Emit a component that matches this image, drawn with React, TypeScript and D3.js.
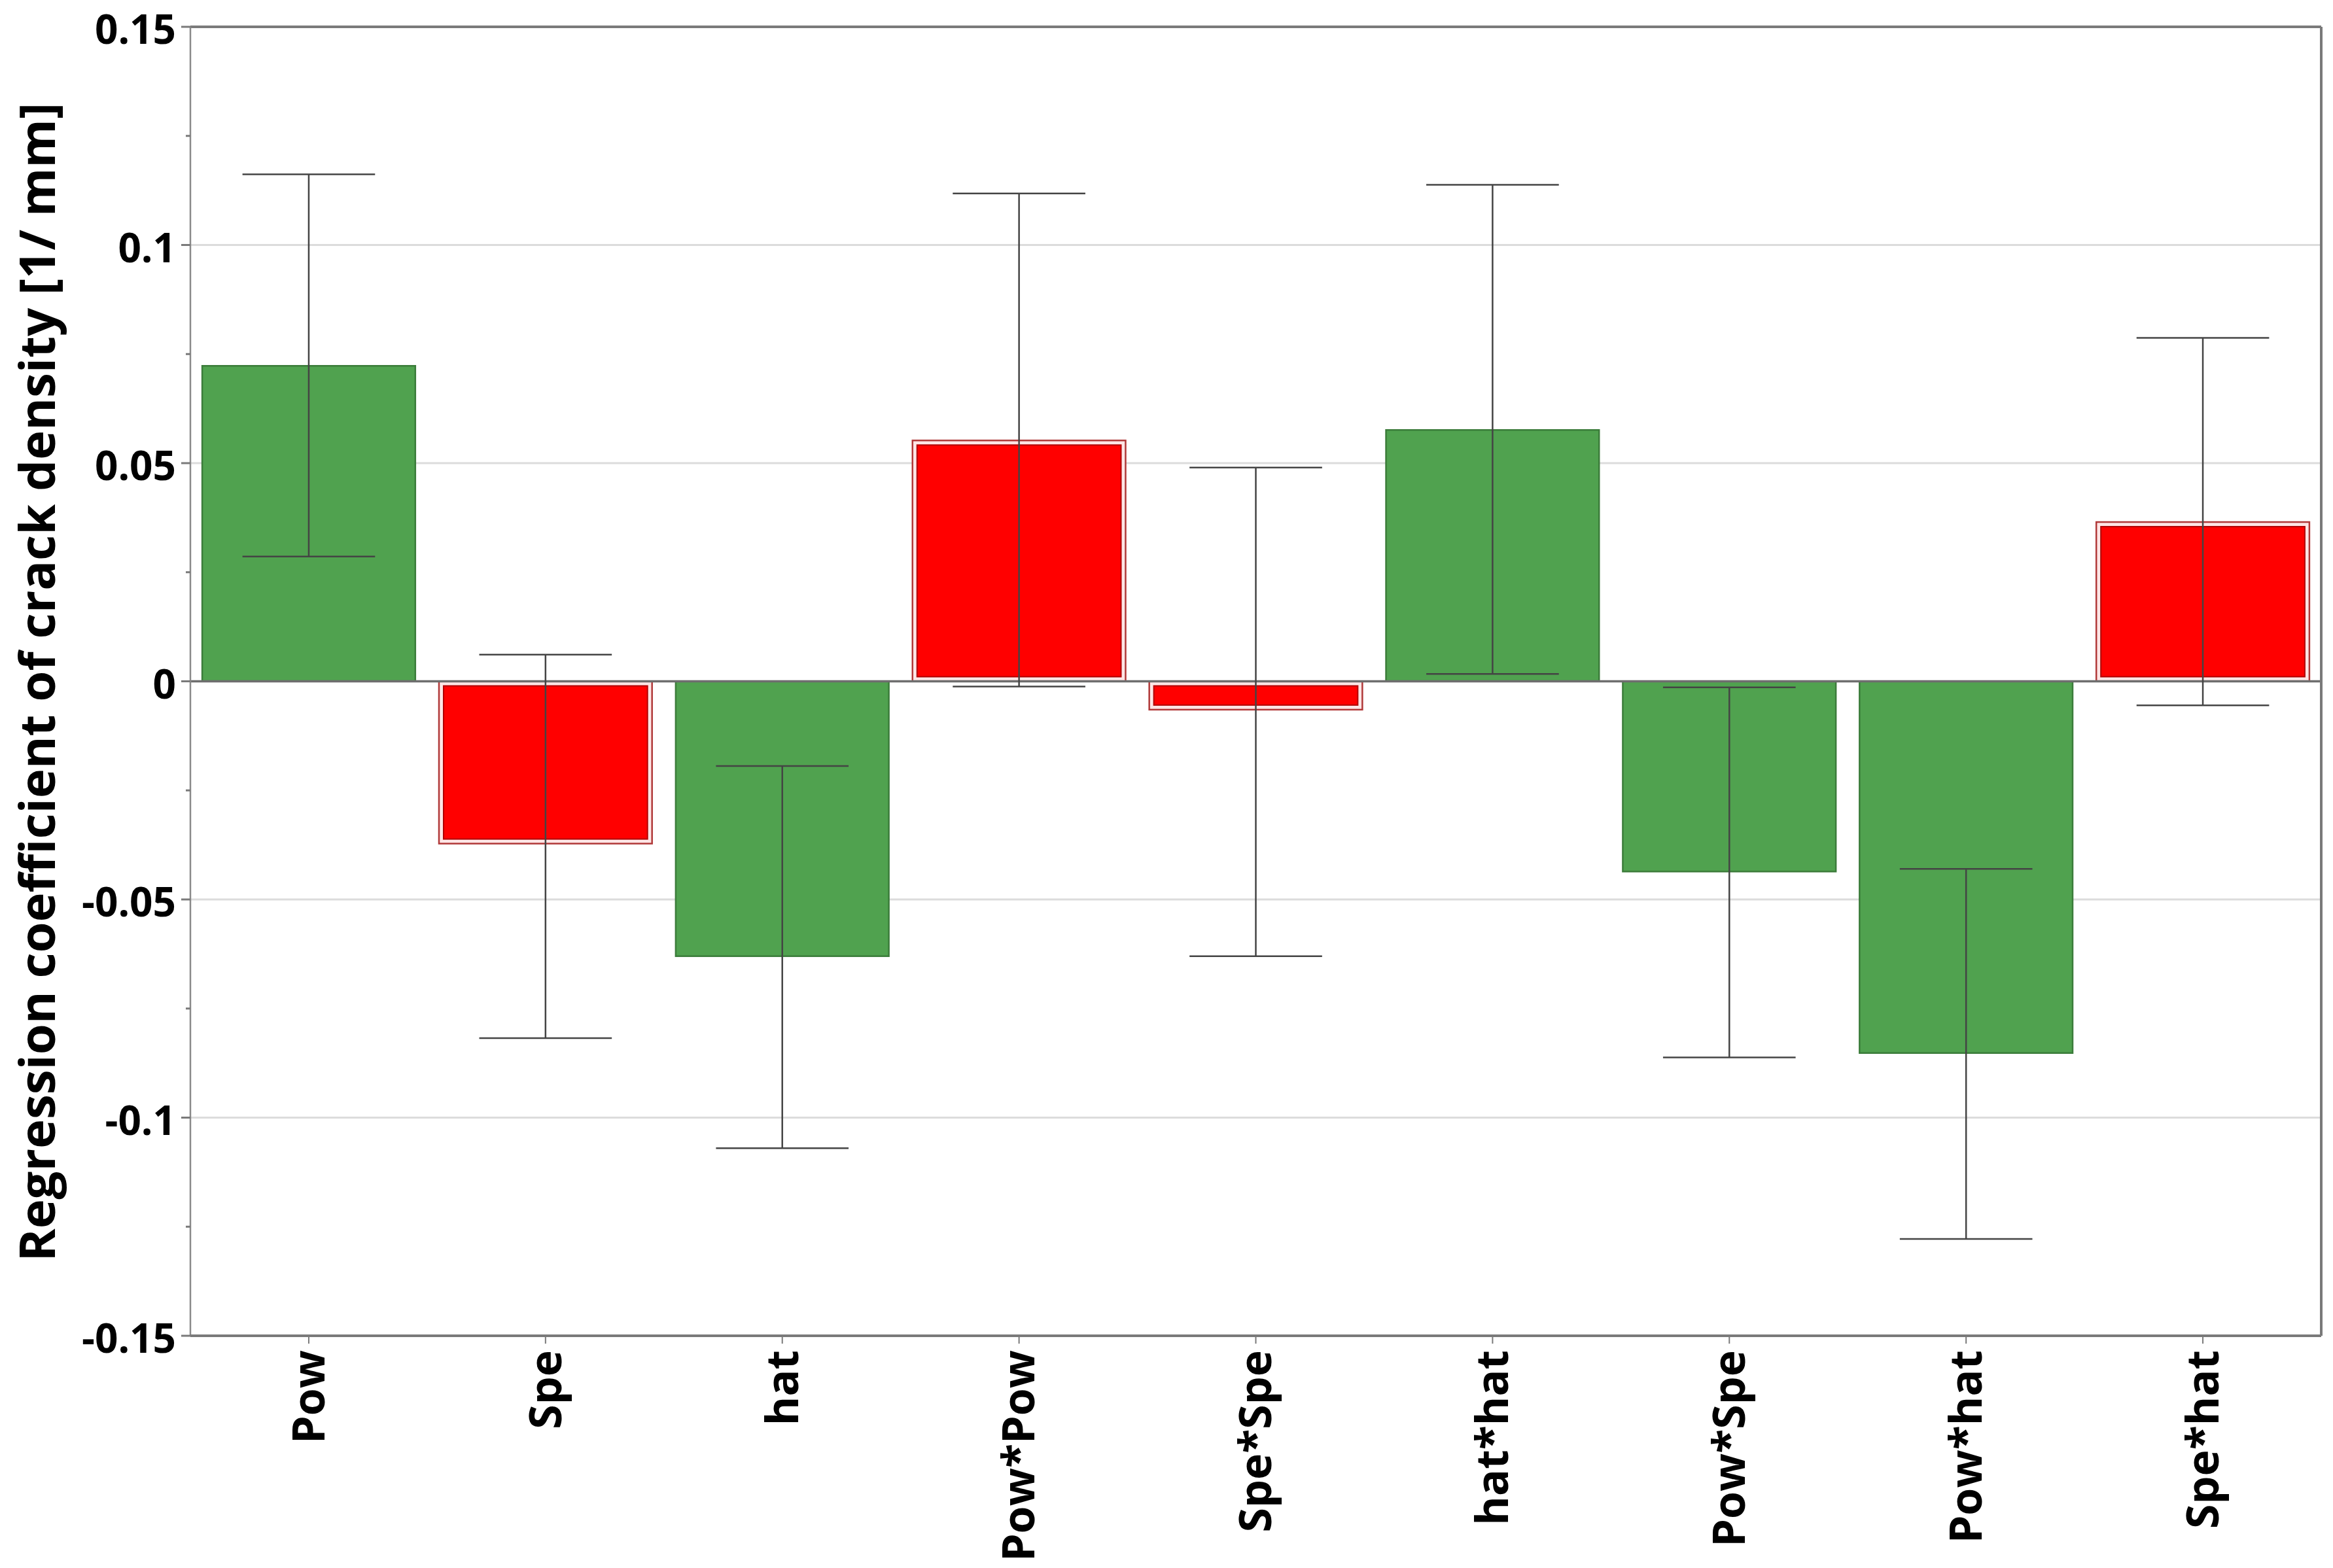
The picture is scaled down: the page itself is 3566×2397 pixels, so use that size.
import React from "react";
import * as d3 from "d3";

const categories = ["Pow", "Spe", "hat", "Pow*Pow", "Spe*Spe", "hat*hat", "Pow*Spe", "Pow*hat", "Spe*hat"];
const coefficients = [0.0723, -0.0372, -0.063, 0.0552, -0.0065, 0.0576, -0.0436, -0.0852, 0.0365];
const errorLow = [0.0286, -0.0818, -0.107, -0.0012, -0.063, 0.0017, -0.0862, -0.1278, -0.0055];
const errorHigh = [0.1162, 0.0061, -0.0194, 0.1118, 0.049, 0.1138, -0.0014, -0.043, 0.0787];
const barColor = ["green", "red", "green", "red", "red", "green", "green", "green", "red"];
const majorTicks = [-0.15, -0.1, -0.05, 0, 0.05, 0.1, 0.15];
const tickLabels = ["-0.15", "-0.1", "-0.05", "0", "0.05", "0.1", "0.15"];
const minorTicks = [-0.125, -0.075, -0.025, 0.025, 0.075, 0.125];
const yTitle = "Regression coefficient of crack density [1/ mm]";

const W = 3566;
const H = 2397;
const M = { left: 291, right: 18, top: 41, bottom: 355 };

export default function App() {
  const x = d3
    .scaleBand<string>()
    .domain(categories)
    .range([M.left, W - M.right])
    .paddingInner(0.1)
    .paddingOuter(0.05);
  const y = d3.scaleLinear().domain([-0.15, 0.15]).range([H - M.bottom, M.top]);
  const bw = x.bandwidth();
  const step = x.step();
  const font = "'Open Sans', 'Noto Sans', sans-serif";
  const y0 = y(0);

  return (
    <svg width={W} height={H} style={{ position: "absolute", left: 0, top: 0, background: "#fff" }}>
      <rect x={0} y={0} width={W} height={H} fill="#fff" />
      {/* gridlines */}
      {majorTicks
        .filter((t) => t !== 0 && Math.abs(t) !== 0.15)
        .map((t) => (
          <line key={"g" + t} x1={M.left} x2={W - M.right} y1={y(t)} y2={y(t)} stroke="#dcdcdc" strokeWidth={3} />
        ))}
      {/* bars */}
      {categories.map((c, i) => {
        const v = coefficients[i];
        const x0 = x(c)!;
        const top = Math.min(y(v), y0);
        const h = Math.abs(y(v) - y0);
        if (barColor[i] === "green") {
          return (
            <rect key={c} x={x0} y={top} width={bw} height={h} fill="#50a24f" stroke="#3b7c3a" strokeWidth={2.5} />
          );
        }
        const inset = 7;
        return (
          <g key={c}>
            <rect x={x0} y={top} width={bw} height={h} fill="#ffe6e6" stroke="#b03838" strokeWidth={2.5} />
            <rect
              x={x0 + inset}
              y={top + inset}
              width={bw - 2 * inset}
              height={Math.max(0, h - 2 * inset)}
              fill="#ff0000"
              stroke="#b00000"
              strokeWidth={2}
            />
          </g>
        );
      })}
      {/* zero line */}
      <line x1={M.left} x2={W - M.right} y1={y0} y2={y0} stroke="#6e6e6e" strokeWidth={3.5} />
      {/* error bars */}
      {categories.map((c, i) => {
        const cx = x(c)! + bw / 2;
        const cap = step * 0.28;
        return (
          <g key={"e" + c} stroke="#444" strokeWidth={2.5}>
            <line x1={cx} x2={cx} y1={y(errorLow[i])} y2={y(errorHigh[i])} />
            <line x1={cx - cap} x2={cx + cap} y1={y(errorLow[i])} y2={y(errorLow[i])} />
            <line x1={cx - cap} x2={cx + cap} y1={y(errorHigh[i])} y2={y(errorHigh[i])} />
          </g>
        );
      })}
      {/* frame */}
      <line x1={M.left} x2={W - M.right} y1={M.top} y2={M.top} stroke="#7a7a7a" strokeWidth={4} />
      <line x1={W - M.right} x2={W - M.right} y1={M.top} y2={H - M.bottom} stroke="#7a7a7a" strokeWidth={4} />
      <line x1={M.left} x2={M.left} y1={M.top} y2={H - M.bottom} stroke="#8a8a8a" strokeWidth={2.5} />
      <line x1={M.left} x2={W - M.right} y1={H - M.bottom} y2={H - M.bottom} stroke="#7a7a7a" strokeWidth={4} />
      {/* y ticks */}
      {majorTicks.map((t, i) => (
        <g key={"t" + t}>
          <line x1={M.left - 14} x2={M.left} y1={y(t)} y2={y(t)} stroke="#7a7a7a" strokeWidth={3} />
          <text
            x={M.left - 22}
            y={y(t)}
            dy="0.42em"
            textAnchor="end"
            fontFamily={font}
            fontWeight="bold"
            fontSize={62}
            fill="#000"
          >
            {tickLabels[i]}
          </text>
        </g>
      ))}
      {minorTicks.map((t) => (
        <line key={"m" + t} x1={M.left - 7} x2={M.left} y1={y(t)} y2={y(t)} stroke="#7a7a7a" strokeWidth={3} />
      ))}
      {/* x ticks and labels */}
      {categories.map((c) => {
        const cx = x(c)! + bw / 2;
        return (
          <g key={"x" + c}>
            <line x1={cx} x2={cx} y1={H - M.bottom} y2={H - M.bottom + 12} stroke="#7a7a7a" strokeWidth={2} />
            <text
              transform={`translate(${cx},${H - M.bottom + 22}) rotate(-90)`}
              dy="0.35em"
              textAnchor="end"
              fontFamily={font}
              fontWeight="bold"
              fontSize={68}
              fill="#000"
            >
              {c}
            </text>
          </g>
        );
      })}
      {/* y title */}
      <text
        transform={`translate(57,${(62 + 855) / 2 * (H / 1054)}) rotate(-90)`}
        dy="0.35em"
        textAnchor="middle"
        fontFamily={font}
        fontWeight="bold"
        fontSize={76}
        fill="#000"
      >
        {yTitle}
      </text>
    </svg>
  );
}
